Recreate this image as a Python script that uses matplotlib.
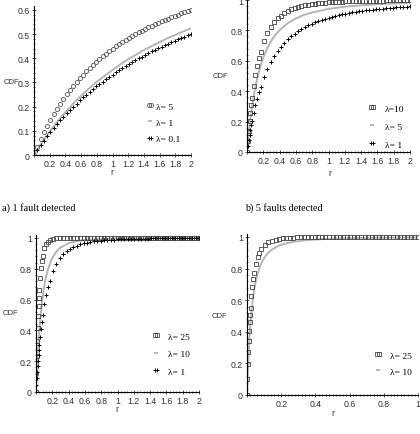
import numpy as np
import matplotlib
matplotlib.use("Agg")
import matplotlib.pyplot as plt
from matplotlib.ticker import MultipleLocator, FuncFormatter

# ---------------- data ----------------
# shared uniform tail grid (r from 0.25 to 2)
r_tail = [0.25, 0.292, 0.333, 0.375, 0.417, 0.458, 0.5, 0.542, 0.583, 0.625, 0.667, 0.708,
          0.75, 0.792, 0.833, 0.875, 0.917, 0.958, 1.0, 1.042, 1.083, 1.125, 1.167, 1.208,
          1.25, 1.292, 1.333, 1.375, 1.417, 1.458, 1.5, 1.542, 1.583, 1.625, 1.667, 1.708,
          1.75, 1.792, 1.833, 1.875, 1.917, 1.958, 2.0]

# panel a) 1 fault detected
r_a = [0.0, 0.042, 0.083, 0.125, 0.167, 0.208] + r_tail
cdf_a_lam5 = [0, .033, .065, .094, .121, .146, .170, .192, .213, .233, .252, .270, .287, .303,
              .318, .333, .347, .360, .373, .385, .397, .408, .419, .429, .439, .449, .458, .467,
              .475, .484, .492, .499, .507, .514, .521, .528, .534, .541, .547, .553, .559, .564,
              .570, .575, .580, .586, .590, .595, .600]
cdf_a_lam01 = [0, .020, .040, .059, .077, .094, .111, .127, .143, .158, .172, .186, .200, .213,
               .226, .238, .250, .262, .273, .284, .294, .304, .314, .324, .333, .342, .351, .360,
               .368, .377, .385, .392, .400, .407, .415, .422, .429, .435, .442, .448, .455, .461,
               .467, .473, .478, .484, .489, .495, .500]
r_a_line = [0.0, 0.1, 0.2, 0.3, 0.4, 0.5, 0.6, 0.7, 0.8, 0.9, 1.0, 1.1, 1.2, 1.3, 1.4, 1.5, 1.6,
            1.7, 1.8, 1.9, 2.0]
cdf_a_lam1 = [0, .051, .097, .139, .177, .213, .245, .275, .303, .328, .352, .375, .396, .415,
              .434, .451, .467, .483, .497, .511, .524]

# panel b) 5 faults detected
r_b = [0.0, 0.0104, 0.0208, 0.0313, 0.0417, 0.0521, 0.0625, 0.0833, 0.1042, 0.125, 0.1458,
       0.1667, 0.2083] + r_tail
cdf_b_lam10 = [0, .073, .140, .202, .257, .308, .355, .437, .506, .565, .616, .659, .729, .782,
               .822, .854, .879, .898, .914, .927, .938, .947, .954, .960, .965, .969, .973, .976,
               .979, .981, .983, .985, .986, .988, .989, .990, .991, .992, .992, .993, .994, .994,
               .995, .995, .995, .996, .996, .996, .997, .997, .997, .997, .998, .998, .998, .998]
cdf_b_lam1 = [0, .039, .076, .111, .144, .175, .204, .258, .307, .351, .392, .428, .492, .546,
              .591, .630, .664, .693, .719, .742, .762, .779, .795, .809, .822, .833, .844, .853,
              .862, .870, .877, .884, .890, .896, .901, .906, .910, .914, .918, .922, .925, .929,
              .931, .934, .937, .939, .942, .944, .946, .948, .950, .952, .953, .955, .956, .958]
r_b_line = [0.0, 0.005, 0.0104, 0.0208, 0.0313, 0.0417, 0.0625, 0.0833, 0.1042, 0.125, 0.15,
            0.175, 0.2, 0.25, 0.3, 0.35, 0.4, 0.5, 0.6, 0.7, 0.8, 1.0, 1.2, 1.4, 1.6, 1.8, 2.0]
cdf_b_lam5 = [0, .031, .062, .118, .170, .217, .300, .370, .431, .483, .536, .582, .621, .685,
              .734, .772, .802, .848, .879, .902, .918, .941, .956, .965, .972, .977, .981]

# panel c)
r_c = [0.0, 0.0052, 0.0104, 0.0156, 0.0208, 0.026, 0.0313, 0.0365, 0.0417, 0.0521, 0.0625,
       0.0729, 0.0833, 0.1042, 0.125, 0.1458, 0.1667, 0.2083] + r_tail
cdf_c_lam25 = [0, .126, .237, .333, .418, .491, .557, .613, .662, .742, .803, .850, .885, .933,
               .961, .977, .987, .996, .998, .999] + [1.0] * 41
cdf_c_lam1 = [0, .046, .089, .129, .168, .204, .239, .272, .302, .359, .410, .457, .498, .571,
              .630, .680, .722, .786, .833, .868, .894, .914, .930, .942, .951, .959, .965, .970,
              .975, .978, .981, .983, .986, .987, .989, .990, .991, .992, .993, .994, .994, .995,
              .995, .996, .996, .996, .997, .997, .997, .998, .998, .998, .998, .998, .998, .998,
              .999, .999, .999, .999, .999]
r_c_line = [0.0, 0.005, 0.01, 0.02, 0.03, 0.04, 0.05, 0.06, 0.08, 0.1, 0.12, 0.15, 0.2, 0.25,
            0.3, 0.4, 0.5, 0.6, 0.8, 1.0, 1.2, 1.5, 2.0]
cdf_c_lam10 = [0, .064, .123, .228, .317, .394, .460, .518, .612, .684, .740, .802, .870, .911,
               .938, .966, .980, .988, .994, .997, .998, .999, 1.0]

# panel d)
r_d = [0.0, 0.0026, 0.0052, 0.0078, 0.0104, 0.013, 0.0156, 0.0182, 0.0208, 0.026, 0.0313,
       0.0365, 0.0417, 0.0521, 0.0625, 0.0729, 0.0833, 0.1042, 0.125, 0.146, 0.167, 0.188,
       0.208, 0.229, 0.25, 0.271, 0.292, 0.313, 0.333, 0.354, 0.375, 0.396, 0.417, 0.438,
       0.458, 0.479, 0.5, 0.521, 0.542, 0.563, 0.583, 0.604, 0.625, 0.646, 0.667, 0.688, 0.708,
       0.729, 0.75, 0.771, 0.792, 0.813, 0.833, 0.854, 0.875, 0.896, 0.917, 0.938, 0.958,
       0.979, 1.0]
cdf_d_lam25 = [0, .104, .194, .274, .344, .406, .460, .509, .552, .625, .685, .732, .771, .830,
               .871, .900, .922, .950, .966, .977, .983, .988, .991, .993, .994, .996, .997, .997,
               .998, .998, .998, .999, .999, .999, .999, .999, .999, .999] + [1.0] * 23
cdf_d_lam10 = [0, .085, .159, .225, .283, .335, .381, .423, .461, .526, .581, .626, .664, .725,
               .770, .806, .833, .874, .901, .920, .934, .945, .953, .960, .965, .969, .973, .976,
               .978, .980, .982, .984, .985, .987, .988, .989, .989, .990, .991, .991, .992, .992,
               .993, .993, .994, .994, .994, .995, .995, .995, .995, .996, .996, .996, .996, .996,
               .997, .997, .997, .997, .997]

captions = ['a) 1 fault detected', 'b) 5 faults detected']

# ---------------- figure ----------------
W, H = 420, 435
fig = plt.figure(figsize=(4.2, 4.35), dpi=100)


def mkax(x0, x1, y0, scale, ytop_val, xmax):
    ytop = y0 - scale * ytop_val
    ax = fig.add_axes([x0 / W, 1 - y0 / H, (x1 - x0) / W, (y0 - ytop) / H])
    ax.set_xlim(0, xmax)
    ax.set_ylim(0, ytop_val)
    for s_ in ['top', 'right']:
        ax.spines[s_].set_visible(False)
    for s_ in ['left', 'bottom']:
        ax.spines[s_].set_linewidth(0.8)
    ax.patch.set_alpha(0)
    return ax


grey = '#b5b5b5'
circ = dict(ls='none', marker='o', ms=3, mfc='none', mec='#555555', mew=0.6)
sq = dict(ls='none', marker='s', ms=2.6, mfc='none', mec='#444444', mew=0.6)
cr = dict(ls='none', marker='+', ms=3.5, mec='black', mew=0.7)
ln = dict(color=grey, lw=1.4)


def style(ax, xmaj, xmin, ymaj, ymin):
    ax.xaxis.set_major_locator(MultipleLocator(xmaj))
    ax.xaxis.set_minor_locator(MultipleLocator(xmin))
    ax.yaxis.set_major_locator(MultipleLocator(ymaj))
    ax.yaxis.set_minor_locator(MultipleLocator(ymin))
    ax.xaxis.set_major_formatter(FuncFormatter(lambda v, p: '' if abs(v) < 1e-9 else f'{v:g}'))
    ax.yaxis.set_major_formatter(FuncFormatter(lambda v, p: f'{v:g}'))
    ax.tick_params(which='major', direction='inout', length=3, width=0.6, labelsize=6.3,
                   colors='#333333', pad=1.5)
    ax.tick_params(which='minor', direction='inout', length=1.6, width=0.5, colors='#333333')
    for t in ax.get_xticklabels() + ax.get_yticklabels():
        t.set_family('Liberation Sans')


axa = mkax(34, 191, 156, 241.7, 0.615, 2)
axa.plot(r_a_line, cdf_a_lam1, label='λ= 1', **ln)
axa.plot(r_a, cdf_a_lam5, label='λ= 5', **circ)
axa.plot(r_a, cdf_a_lam01, label='λ= 0.1', **cr)
style(axa, 0.2, 0.04, 0.1, 0.02)

axb = mkax(247, 410, 153, 152, 1.005, 2)
axb.plot(r_b_line, cdf_b_lam5, label='λ= 5', **ln)
axb.plot(r_b, cdf_b_lam10, label='λ=10', **sq)
axb.plot(r_b, cdf_b_lam1, label='λ= 1', **cr)
style(axb, 0.2, 0.04, 0.2, 0.04)

axc = mkax(36, 199, 393, 154, 1.02, 2)
axc.plot(r_c_line, cdf_c_lam10, label='λ= 10', **ln)
axc.plot(r_c, cdf_c_lam25, label='λ= 25', **sq)
axc.plot(r_c, cdf_c_lam1, label='λ= 1', **cr)
style(axc, 0.2, 0.04, 0.2, 0.04)

axd = mkax(247, 418, 396, 158, 1.02, 1)
axd.plot(r_d, cdf_d_lam10, label='λ= 10', **ln)
axd.plot(r_d, cdf_d_lam25, label='λ= 25', **sq)
style(axd, 0.2, 0.02, 0.2, 0.04)


def leg(ax, order, x, y, pad, sp):
    h, l = ax.get_legend_handles_labels()
    h = [h[i] for i in order]
    l = [l[i] for i in order]
    ax.legend(h, l, loc='upper left', bbox_to_anchor=(x / W, 1 - y / H),
              bbox_transform=fig.transFigure, frameon=False, numpoints=2, handlelength=0.8,
              handletextpad=pad, labelspacing=sp, borderpad=0, borderaxespad=0,
              prop={'family': 'Liberation Serif', 'size': 6.8})


leg(axa, [1, 0, 2], 146, 103, 0.3, 0.8)
leg(axb, [1, 0, 2], 368, 105, 1.0, 1.0)
leg(axc, [1, 0, 2], 152, 333, 0.9, 0.95)
leg(axd, [1, 0], 374, 352, 0.9, 0.8)

for (x, y) in [(11, 82), (220, 76), (10, 314), (219, 317)]:
    fig.text(x / W, 1 - y / H, 'CDF', ha='center', va='center', fontsize=5.5,
             family='Liberation Sans', color='#333333')
for (x, y) in [(112, 173), (330, 174), (117, 410), (333, 414)]:
    fig.text(x / W, 1 - y / H, 'r', ha='center', va='center', fontsize=6.3,
             family='Liberation Sans', color='#333333')
fig.text(2 / W, 1 - 208 / H, captions[0], ha='left', va='center', fontsize=7.3,
         family='Liberation Serif')
fig.text(245 / W, 1 - 208 / H, captions[1], ha='left', va='center', fontsize=7.3,
         family='Liberation Serif')
fig.savefig('out.png', dpi=100)
